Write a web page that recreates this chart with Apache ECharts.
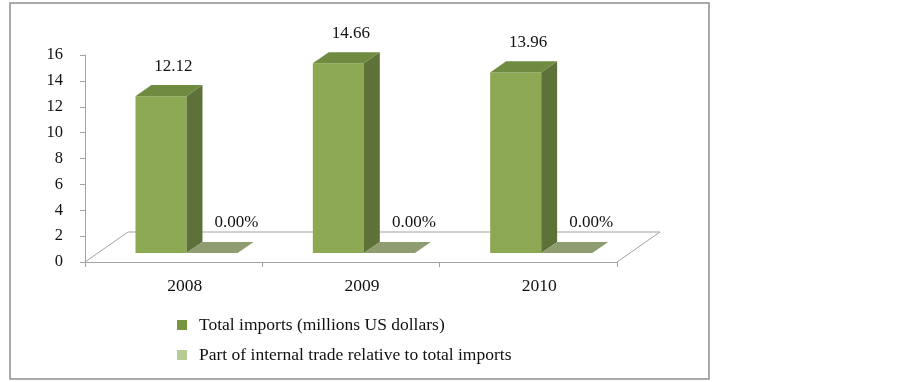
<!DOCTYPE html>
<html>
<head>
<meta charset="utf-8">
<script src="https://cdn.jsdelivr.net/npm/echarts@6/dist/echarts.min.js"></script>
<style>
html,body{margin:0;padding:0;background:#fff;}
#chart{width:902px;height:382px;}
</style>
</head>
<body>
<div id="chart"></div>
<script>
// ---- data ----
const categories = ['2008', '2009', '2010'];
const totalImports = [12.12, 14.66, 13.96];        // millions US dollars
const internalShare = [0, 0, 0];                    // percent of total imports
const seriesNames = ['Total imports (millions US dollars)', 'Part of internal trade relative to total imports'];
const yMin = 0, yMax = 16, yStep = 2;

// ---- style ----
const FONT = '"Liberation Serif", "Times New Roman", serif';
const DEPTH = [43, -30];       // oblique floor depth in px
const F = 0.3, B = 0.67;       // bar front / back depth fractions
const BAR_FRAC = 0.288;        // bar width as fraction of band
const C = {
  front: '#8CA853', side: '#5D7139', top: '#6F8B3F',
  patch: '#8D9D6F', leg1: '#77953F', leg2: '#B7CC95',
  axis: '#A3A3A3', text: '#111'
};

const chart = echarts.init(document.getElementById('chart'), null, {renderer: 'canvas'});

function floorItem(params, api) {
  const bw = api.size([1, 0])[0];
  const p0 = api.coord([0, 0]);
  const p2 = api.coord([categories.length - 1, 0]);
  const xl = p0[0] - bw / 2, xr = p2[0] + bw / 2, y = p0[1];
  return {
    type: 'polyline',
    shape: {points: [[xl, y], [xl + DEPTH[0], y + DEPTH[1]], [xr + DEPTH[0], y + DEPTH[1]], [xr, y]]},
    style: {stroke: C.axis, fill: null, lineWidth: 1}
  };
}

function barItem(kind) {
  return function (params, api) {
    const i = api.value(0), v = api.value(1);
    const bw = api.size([1, 0])[0];
    const w = bw * BAR_FRAC;
    const c = api.coord([i, 0]);
    const yv = api.coord([i, v])[1];
    const y0 = c[1];
    const xl = kind === 0 ? c[0] - w : c[0];
    const xr = xl + w;
    const fx = DEPTH[0] * F, fy = DEPTH[1] * F, bx = DEPTH[0] * B, by = DEPTH[1] * B;
    const children = [];
    if (kind === 0) {
      children.push({type: 'polygon', shape: {points: [[xl + fx, y0 + fy], [xr + fx, y0 + fy], [xr + fx, yv + fy], [xl + fx, yv + fy]]}, style: {fill: C.front}});
      children.push({type: 'polygon', shape: {points: [[xr + fx, yv + fy], [xr + bx, yv + by], [xr + bx, y0 + by], [xr + fx, y0 + fy]]}, style: {fill: C.side}});
      children.push({type: 'polygon', shape: {points: [[xl + fx, yv + fy], [xr + fx, yv + fy], [xr + bx, yv + by], [xl + bx, yv + by]]}, style: {fill: C.top}});
    } else {
      children.push({type: 'polygon', shape: {points: [[xl + fx, yv + fy], [xr + fx, yv + fy], [xr + bx, yv + by], [xl + bx, yv + by]]}, style: {fill: C.patch}});
    }
    const label = kind === 0 ? v.toFixed(2) : v.toFixed(2) + '%';
    const lx = xl + fx + (kind === 0 ? 38 : 50);
    children.push({
      type: 'text', x: lx, y: yv + by - 19,
      style: {text: label, fill: C.text, fontSize: 17, fontFamily: FONT, align: 'center', verticalAlign: 'middle'}
    });
    return {type: 'group', children: children};
  };
}

chart.setOption({
  animation: false,
  backgroundColor: '#fff',
  grid: {left: 85, top: 55, width: 532, height: 207},
  graphic: [{
    type: 'rect', shape: {x: 10, y: 3, width: 699, height: 376},
    style: {fill: null, stroke: '#8E8E8E', lineWidth: 1.5}, silent: true
  }],
  legend: {
    orient: 'vertical', left: 177, top: 316, padding: 0, itemWidth: 10, itemHeight: 10, itemGap: 12,
    selectedMode: false,
    textStyle: {fontSize: 17.5, lineHeight: 18, fontFamily: FONT, color: C.text, padding: [0, 0, 0, 7]},
    data: [
      {name: seriesNames[0], icon: 'rect', itemStyle: {color: C.leg1}},
      {name: seriesNames[1], icon: 'rect', itemStyle: {color: C.leg2}}
    ]
  },
  xAxis: {
    type: 'category', data: categories, boundaryGap: true,
    axisLine: {show: true, lineStyle: {color: C.axis, width: 1}},
    axisTick: {show: true, length: 5, interval: 0, lineStyle: {color: C.axis}},
    axisLabel: {fontSize: 17.5, fontFamily: FONT, color: C.text, margin: 15, padding: [0, 0, 0, 22]},
    splitLine: {show: false}
  },
  yAxis: {
    type: 'value', min: yMin, max: yMax, interval: yStep,
    axisLine: {show: true, lineStyle: {color: C.axis, width: 1}},
    axisTick: {show: true, length: 5, lineStyle: {color: C.axis}},
    axisLabel: {fontSize: 16.5, fontFamily: FONT, color: C.text, margin: 22},
    splitLine: {show: false}
  },
  series: [
    {type: 'custom', name: 'floor', renderItem: floorItem, data: [[0, 0]], silent: true, z: 1},
    {type: 'custom', name: seriesNames[0], renderItem: barItem(0),
     itemStyle: {color: C.leg1},
     data: categories.map((c, i) => [i, totalImports[i]]), z: 2},
    {type: 'custom', name: seriesNames[1], renderItem: barItem(1),
     itemStyle: {color: C.leg2},
     data: categories.map((c, i) => [i, internalShare[i]]), z: 2}
  ]
});
</script>
</body>
</html>
